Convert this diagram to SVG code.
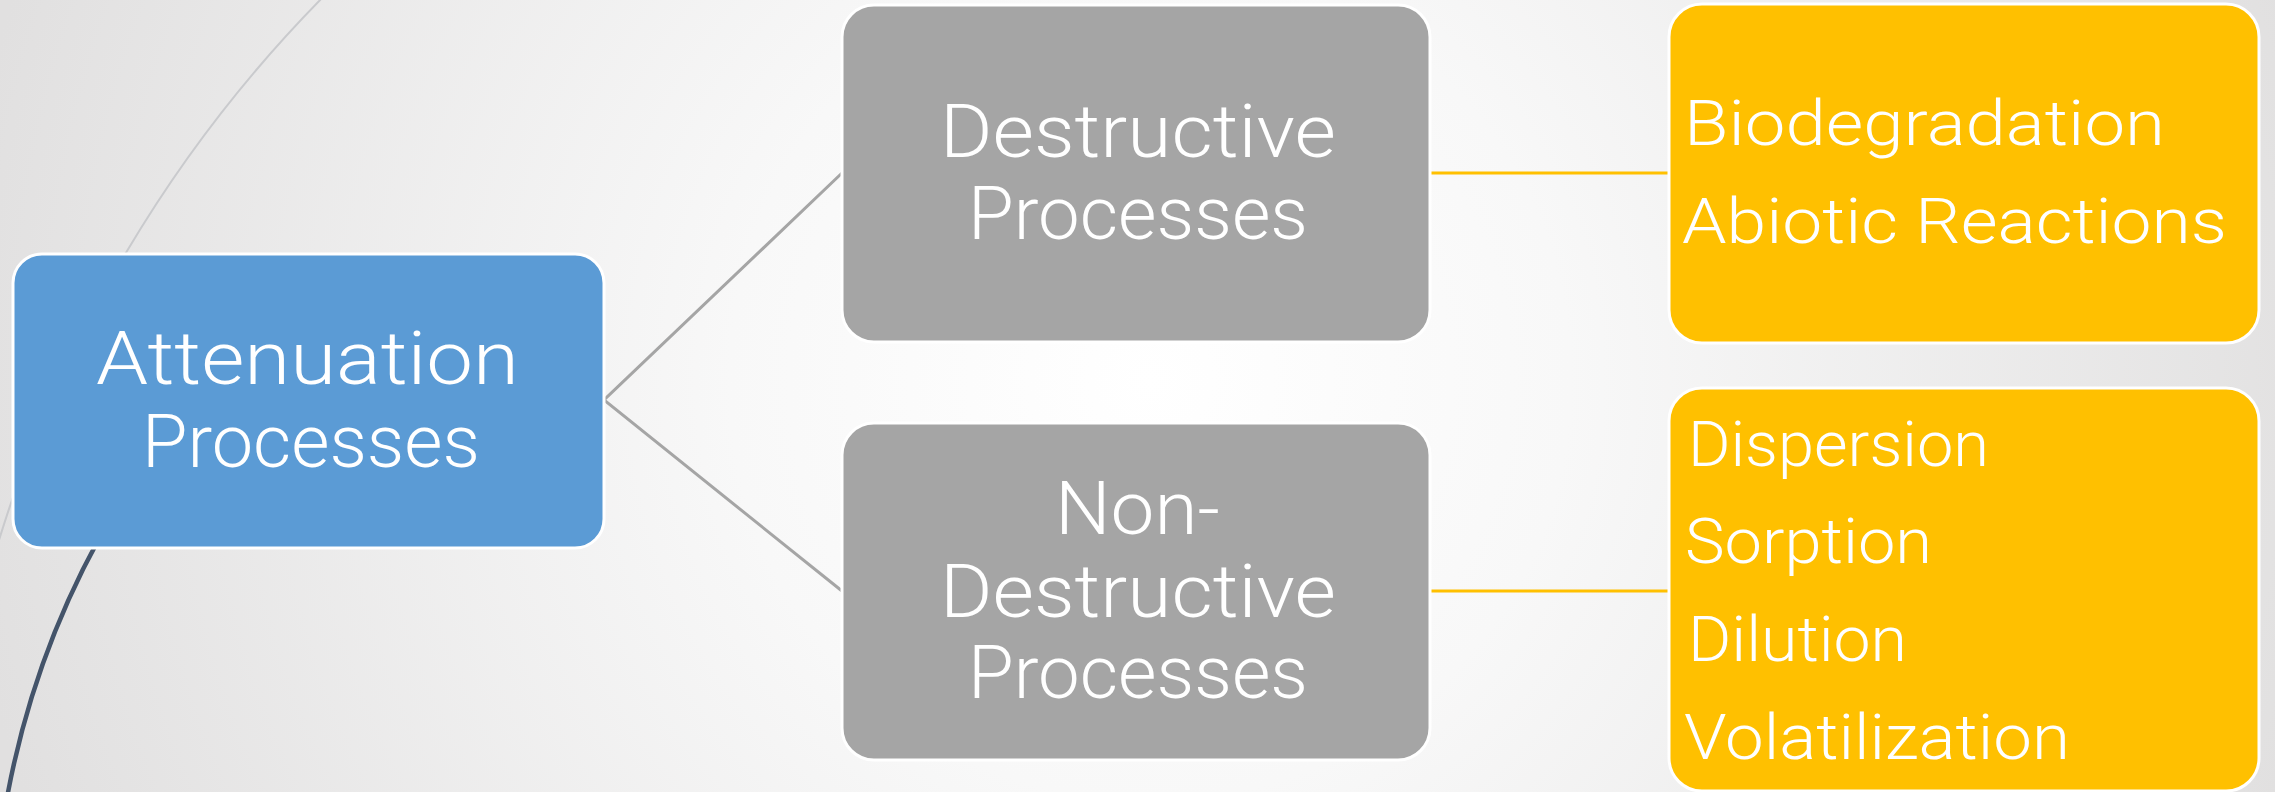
<svg xmlns="http://www.w3.org/2000/svg" width="2275" height="792" viewBox="0 0 2275 792">
  <style>
    .blue { fill: #5b9bd5; stroke: #ffffff; stroke-width: 3; }
    .gray { fill: #a5a5a5; stroke: #ffffff; stroke-width: 3; }
    .gold { fill: #ffc000; stroke: #ffffff; stroke-width: 3; }
    .t { font-family: Roboto, "Liberation Sans", Arial, sans-serif; font-weight: 300; fill: #ffffff; }
    .big { font-size: 74px; }
    .mid { font-size: 75px; }
    .sm { font-size: 63px; }
    .cg { stroke: #a5a5a5; stroke-width: 3; fill: none; }
    .cy { stroke: #ffc000; stroke-width: 3; fill: none; }
  </style>
  <defs>
    <radialGradient id="bg" gradientUnits="userSpaceOnUse" cx="1150" cy="380" r="1200">
      <stop offset="0" stop-color="#ffffff"/>
      <stop offset="0.35" stop-color="#f8f8f8"/>
      <stop offset="1" stop-color="#e1e0e0"/>
    </radialGradient>
  </defs>
  <rect x="0" y="0" width="2275" height="792" fill="url(#bg)"/>
  <g id="decor">
    <path d="M 330 -10 A 1327.7 1327.7 0 0 0 -5 553.5" fill="none" stroke="#c9cacd" stroke-width="2"/>
    <path d="M 121.5 500 A 867.4 867.4 0 0 0 6.6 800" fill="none" stroke="#44546a" stroke-width="4.5"/>
  </g>
  <g id="connectors">
    <polyline class="cg" points="842,173 604,400 842,591"/>
    <line class="cy" x1="1430" y1="173" x2="1669" y2="173"/>
    <line class="cy" x1="1430" y1="591" x2="1669" y2="591"/>
  </g>
  <g id="attenuation">
    <rect class="blue" x="13" y="254" width="591" height="294" rx="29" ry="29"/>
    <text class="t big" x="96" y="384" textLength="423" lengthAdjust="spacingAndGlyphs">Attenuation</text>
    <text class="t big" x="142" y="467" textLength="338" lengthAdjust="spacingAndGlyphs">Processes</text>
  </g>
  <g id="destructive">
    <rect class="gray" x="842" y="5" width="588" height="337" rx="32" ry="32"/>
    <text class="t mid" x="940" y="157" textLength="396" lengthAdjust="spacingAndGlyphs">Destructive</text>
    <text class="t mid" x="968" y="239" textLength="340" lengthAdjust="spacingAndGlyphs">Processes</text>
  </g>
  <g id="non-destructive">
    <rect class="gray" x="842" y="423" width="588" height="337" rx="32" ry="32"/>
    <text class="t mid" x="1055" y="534" textLength="165" lengthAdjust="spacingAndGlyphs">Non-</text>
    <text class="t mid" x="940" y="617" textLength="396" lengthAdjust="spacingAndGlyphs">Destructive</text>
    <text class="t mid" x="968" y="698" textLength="340" lengthAdjust="spacingAndGlyphs">Processes</text>
  </g>
  <g id="destructive-list">
    <rect class="gold" x="1669" y="4" width="590" height="339" rx="33" ry="33"/>
    <text class="t sm" x="1684" y="145" textLength="481" lengthAdjust="spacingAndGlyphs">Biodegradation</text>
    <text class="t sm" x="1682" y="243" textLength="545" lengthAdjust="spacingAndGlyphs">Abiotic Reactions</text>
  </g>
  <g id="non-destructive-list">
    <rect class="gold" x="1669" y="388" width="590" height="403" rx="33" ry="33"/>
    <text class="t sm" x="1688" y="466" textLength="301" lengthAdjust="spacingAndGlyphs">Dispersion</text>
    <text class="t sm" x="1685" y="563" textLength="247" lengthAdjust="spacingAndGlyphs">Sorption</text>
    <text class="t sm" x="1688" y="661" textLength="219" lengthAdjust="spacingAndGlyphs">Dilution</text>
    <text class="t sm" x="1684" y="759" textLength="386" lengthAdjust="spacingAndGlyphs">Volatilization</text>
  </g>
</svg>
